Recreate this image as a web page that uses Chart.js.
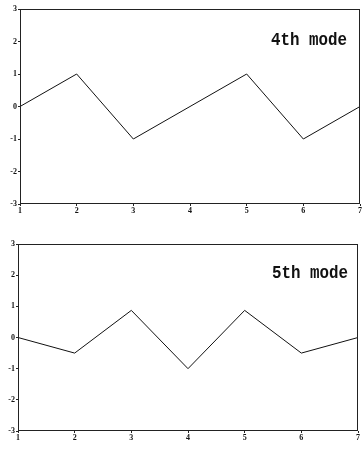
<!DOCTYPE html>
<html>
<head>
<meta charset="utf-8">
<script src="https://cdn.jsdelivr.net/npm/chart.js@4/dist/chart.umd.min.js"></script>
<style>
  body { margin: 0; background: #fff; width: 362px; height: 455px; overflow: hidden; }
  .box { position: absolute; left: 0; width: 362px; }
  #top { top: 0; height: 220px; }
  #bot { top: 232px; height: 223px; }
</style>
</head>
<body>
<div class="box" id="top"><canvas id="mode4"></canvas></div>
<div class="box" id="bot"><canvas id="mode5"></canvas></div>
<script>
// positions along the string
var nodes = [1, 2, 3, 4, 5, 6, 7];
// 4th mode shape
var mode4 = [0, 1, -1, 0, 1, -1, 0];
// 5th mode shape
var mode5 = [0, -0.5, 0.87, -1, 0.87, -0.5, 0];
var yTicks = [-3, -2, -1, 0, 1, 2, 3];

var tickFont = { family: 'Liberation Serif', size: 8, weight: 'bold' };

// frame + label text inside the plot
var framePlugin = {
  id: 'frame',
  afterDraw: function (chart, args, opts) {
    var a = chart.chartArea, ctx = chart.ctx;
    ctx.save();
    ctx.strokeStyle = '#222';
    ctx.lineWidth = 1;
    ctx.strokeRect(a.left + 0.5, a.top + 0.5, a.right - a.left - 1, a.bottom - a.top - 1);
    ctx.fillStyle = '#111';
    ctx.font = 'bold 18px "Liberation Mono"';
    ctx.textAlign = 'right';
    ctx.textBaseline = 'alphabetic';
    ctx.translate(a.right - opts.dx, a.top + opts.dy);
    ctx.scale(0.88, 1);
    ctx.fillText(opts.text, 0, 0);
    ctx.restore();
  }
};

function makeChart(id, values, label, pad, xh, yw, textPos) {
  return new Chart(document.getElementById(id), {
    type: 'line',
    data: {
      datasets: [{
        data: nodes.map(function (n, i) { return { x: n, y: values[i] }; }),
        borderColor: '#111',
        borderWidth: 1,
        pointRadius: 0,
        tension: 0,
        fill: false
      }]
    },
    plugins: [framePlugin],
    options: {
      responsive: true,
      maintainAspectRatio: false,
      animation: false,
      layout: { padding: pad },
      plugins: {
        legend: { display: false },
        tooltip: { enabled: false },
        frame: { text: label, dx: textPos[0], dy: textPos[1] }
      },
      scales: {
        x: {
          type: 'linear',
          min: 1, max: 7,
          grid: { display: true, drawOnChartArea: false, tickLength: 2, color: '#222' },
          border: { display: false },
          ticks: { stepSize: 1, color: '#111', font: tickFont, padding: 0, maxRotation: 0 },
          afterFit: function (s) { s.height = xh; }
        },
        y: {
          min: -3, max: 3,
          afterBuildTicks: function (s) { s.ticks = yTicks.map(function (v) { return { value: v }; }); },
          grid: { display: true, drawOnChartArea: false, tickLength: 2, color: '#222' },
          border: { display: false },
          ticks: { color: '#111', font: tickFont, padding: 1 },
          afterFit: function (s) { s.width = yw; }
        }
      }
    }
  });
}

makeChart('mode4', mode4, '4th mode', { top: 9, right: 0, bottom: 6, left: 0 }, 10, 20, [13, 36]);
makeChart('mode5', mode5, '5th mode', { top: 12, right: 4, bottom: 12, left: 0 }, 12, 18, [10, 34]);
</script>
</body>
</html>
